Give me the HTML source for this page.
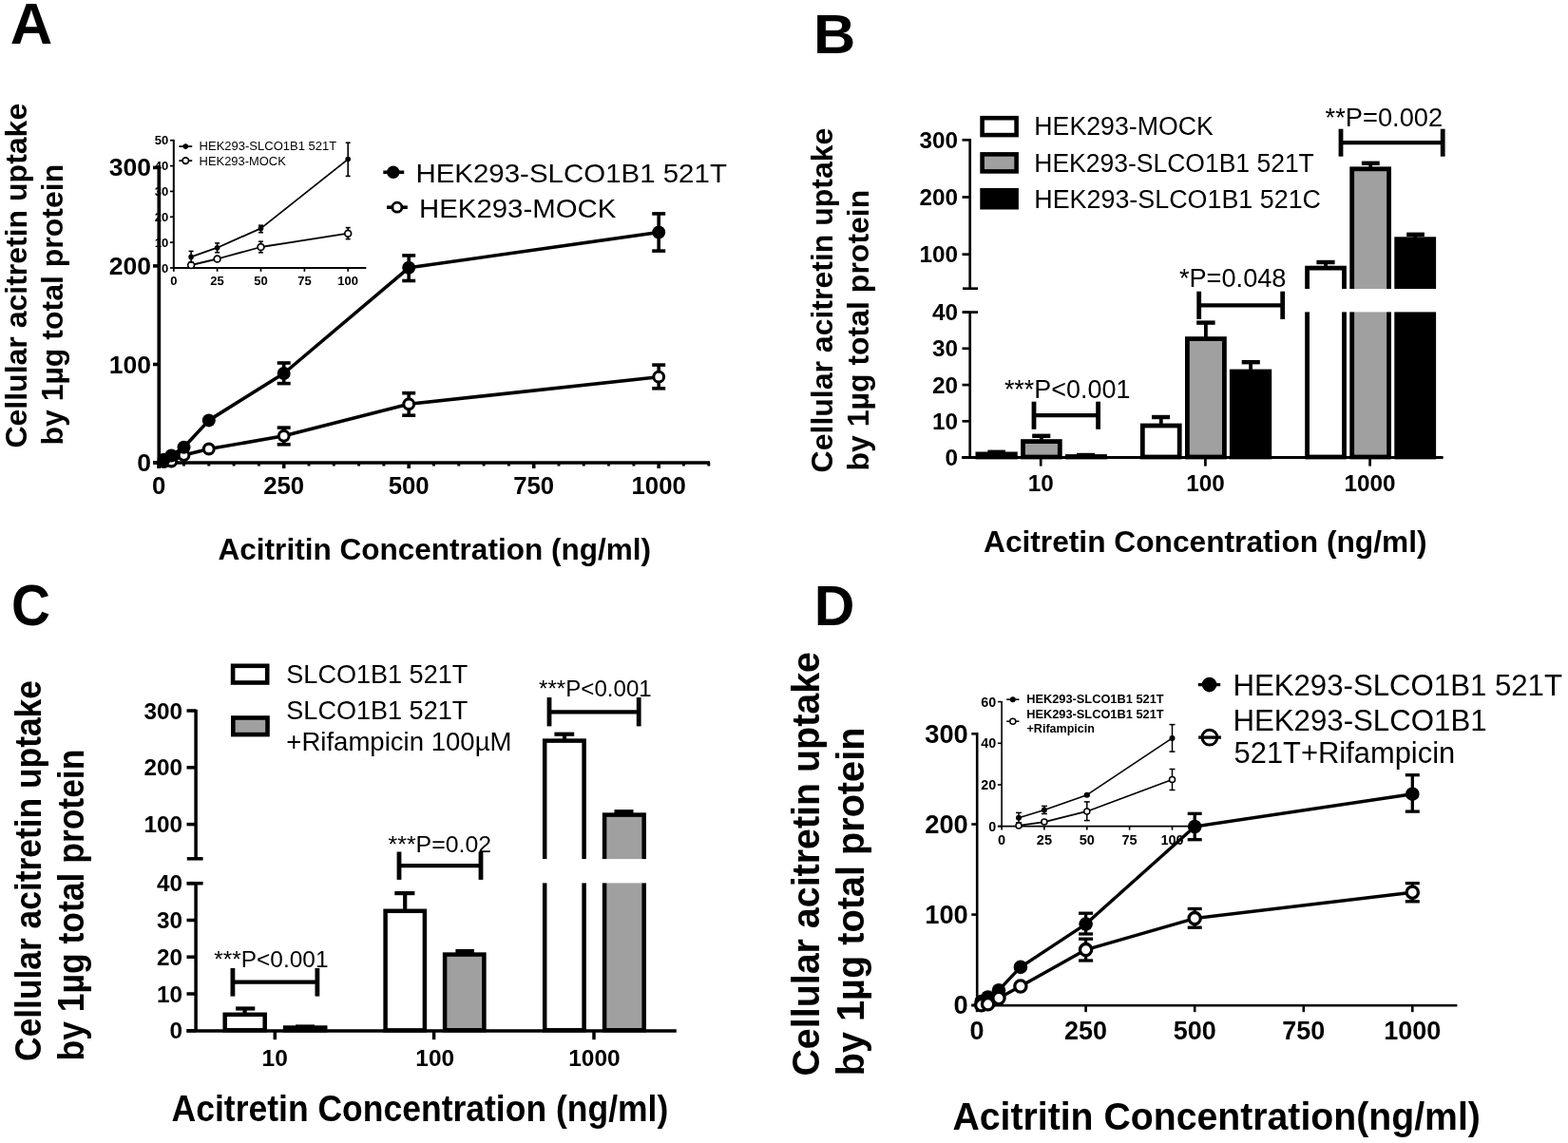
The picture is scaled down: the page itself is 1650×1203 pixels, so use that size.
<!DOCTYPE html>
<html><head><meta charset="utf-8"><title>Figure</title>
<style>html,body{margin:0;padding:0;background:#fff;}svg{display:block;}
text{font-family:"Liberation Sans",Arial,Helvetica,sans-serif;fill:#000;stroke:none;}
</style></head><body>
<svg width="1650" height="1203" viewBox="0 0 1650 1203" stroke="#000" stroke-linecap="butt">
<rect x="0" y="0" width="1650" height="1203" fill="#fff" stroke="none"/>
<text x="10.7" y="45.6" font-size="60.3" font-weight="bold" text-anchor="start" textLength="44.5" lengthAdjust="spacingAndGlyphs">A</text>
<text transform="translate(28.3 471.6) rotate(-90)" font-size="32.0" font-weight="bold">Cellular acitretin uptake</text>
<text transform="translate(65.7 468.6) rotate(-90)" font-size="32.0" font-weight="bold">by 1µg total protein</text>
<line x1="167.3" y1="174.0" x2="167.3" y2="492.7" stroke-width="3.70"/>
<line x1="161.3" y1="487.0" x2="747.0" y2="487.0" stroke-width="3.70"/>
<line x1="161.0" y1="487.0" x2="167.3" y2="487.0" stroke-width="3.60"/>
<text x="159.0" y="496.0" font-size="26.5" font-weight="bold" text-anchor="end">0</text>
<line x1="161.0" y1="383.5" x2="167.3" y2="383.5" stroke-width="3.60"/>
<text x="159.0" y="392.5" font-size="26.5" font-weight="bold" text-anchor="end">100</text>
<line x1="161.0" y1="279.9" x2="167.3" y2="279.9" stroke-width="3.60"/>
<text x="159.0" y="288.9" font-size="26.5" font-weight="bold" text-anchor="end">200</text>
<line x1="161.0" y1="176.4" x2="167.3" y2="176.4" stroke-width="3.60"/>
<text x="159.0" y="185.4" font-size="26.5" font-weight="bold" text-anchor="end">300</text>
<line x1="167.2" y1="487.0" x2="167.2" y2="493.0" stroke-width="3.60"/>
<line x1="193.5" y1="487.0" x2="193.5" y2="490.5" stroke-width="3.00"/>
<line x1="219.8" y1="487.0" x2="219.8" y2="490.5" stroke-width="3.00"/>
<line x1="246.1" y1="487.0" x2="246.1" y2="490.5" stroke-width="3.00"/>
<line x1="272.4" y1="487.0" x2="272.4" y2="490.5" stroke-width="3.00"/>
<line x1="298.7" y1="487.0" x2="298.7" y2="493.0" stroke-width="3.60"/>
<line x1="325.0" y1="487.0" x2="325.0" y2="490.5" stroke-width="3.00"/>
<line x1="351.3" y1="487.0" x2="351.3" y2="490.5" stroke-width="3.00"/>
<line x1="377.6" y1="487.0" x2="377.6" y2="490.5" stroke-width="3.00"/>
<line x1="403.9" y1="487.0" x2="403.9" y2="490.5" stroke-width="3.00"/>
<line x1="430.2" y1="487.0" x2="430.2" y2="493.0" stroke-width="3.60"/>
<line x1="456.5" y1="487.0" x2="456.5" y2="490.5" stroke-width="3.00"/>
<line x1="482.8" y1="487.0" x2="482.8" y2="490.5" stroke-width="3.00"/>
<line x1="509.1" y1="487.0" x2="509.1" y2="490.5" stroke-width="3.00"/>
<line x1="535.4" y1="487.0" x2="535.4" y2="490.5" stroke-width="3.00"/>
<line x1="561.7" y1="487.0" x2="561.7" y2="493.0" stroke-width="3.60"/>
<line x1="588.0" y1="487.0" x2="588.0" y2="490.5" stroke-width="3.00"/>
<line x1="614.3" y1="487.0" x2="614.3" y2="490.5" stroke-width="3.00"/>
<line x1="640.6" y1="487.0" x2="640.6" y2="490.5" stroke-width="3.00"/>
<line x1="666.9" y1="487.0" x2="666.9" y2="490.5" stroke-width="3.00"/>
<line x1="693.2" y1="487.0" x2="693.2" y2="493.0" stroke-width="3.60"/>
<line x1="719.5" y1="487.0" x2="719.5" y2="490.5" stroke-width="3.00"/>
<line x1="745.8" y1="487.0" x2="745.8" y2="490.5" stroke-width="3.00"/>
<text x="167.2" y="519.8" font-size="25.8" font-weight="bold" text-anchor="middle">0</text>
<text x="298.7" y="519.8" font-size="25.8" font-weight="bold" text-anchor="middle">250</text>
<text x="430.2" y="519.8" font-size="25.8" font-weight="bold" text-anchor="middle">500</text>
<text x="561.7" y="519.8" font-size="25.8" font-weight="bold" text-anchor="middle">750</text>
<text x="693.2" y="519.8" font-size="25.8" font-weight="bold" text-anchor="middle">1000</text>
<text x="457.3" y="588.9" font-size="32.0" font-weight="bold" text-anchor="middle" textLength="455.5" lengthAdjust="spacingAndGlyphs">Acitritin Concentration (ng/ml)</text>
<polyline fill="none" stroke-width="3.60" stroke-linejoin="round" points="172.5,486.0 180.3,485.5 193.5,479.1 219.8,472.5 298.7,458.8 430.2,425.3 693.2,396.7"/>
<line x1="298.7" y1="450.1" x2="298.7" y2="467.8" stroke-width="3.60"/>
<line x1="291.7" y1="450.1" x2="305.7" y2="450.1" stroke-width="3.60"/>
<line x1="291.7" y1="467.8" x2="305.7" y2="467.8" stroke-width="3.60"/>
<line x1="430.2" y1="413.7" x2="430.2" y2="437.2" stroke-width="3.60"/>
<line x1="423.2" y1="413.7" x2="437.2" y2="413.7" stroke-width="3.60"/>
<line x1="423.2" y1="437.2" x2="437.2" y2="437.2" stroke-width="3.60"/>
<line x1="693.2" y1="384.1" x2="693.2" y2="408.8" stroke-width="3.60"/>
<line x1="686.2" y1="384.1" x2="700.2" y2="384.1" stroke-width="3.60"/>
<line x1="686.2" y1="408.8" x2="700.2" y2="408.8" stroke-width="3.60"/>
<circle cx="172.5" cy="486.0" r="5.40" fill="#fff" stroke-width="3.10"/>
<circle cx="180.3" cy="485.5" r="5.40" fill="#fff" stroke-width="3.10"/>
<circle cx="193.5" cy="479.1" r="5.40" fill="#fff" stroke-width="3.10"/>
<circle cx="219.8" cy="472.5" r="5.40" fill="#fff" stroke-width="3.10"/>
<circle cx="298.7" cy="458.8" r="5.40" fill="#fff" stroke-width="3.10"/>
<circle cx="430.2" cy="425.3" r="5.40" fill="#fff" stroke-width="3.10"/>
<circle cx="693.2" cy="396.7" r="5.40" fill="#fff" stroke-width="3.10"/>
<polyline fill="none" stroke-width="3.60" stroke-linejoin="round" points="172.5,483.8 180.3,479.5 193.5,470.8 219.8,442.4 298.7,393.0 430.2,281.8 693.2,244.5"/>
<line x1="298.7" y1="382.0" x2="298.7" y2="403.6" stroke-width="3.60"/>
<line x1="291.7" y1="382.0" x2="305.7" y2="382.0" stroke-width="3.60"/>
<line x1="291.7" y1="403.6" x2="305.7" y2="403.6" stroke-width="3.60"/>
<line x1="430.2" y1="268.9" x2="430.2" y2="295.5" stroke-width="3.60"/>
<line x1="423.2" y1="268.9" x2="437.2" y2="268.9" stroke-width="3.60"/>
<line x1="423.2" y1="295.5" x2="437.2" y2="295.5" stroke-width="3.60"/>
<line x1="693.2" y1="224.9" x2="693.2" y2="264.1" stroke-width="3.60"/>
<line x1="686.2" y1="224.9" x2="700.2" y2="224.9" stroke-width="3.60"/>
<line x1="686.2" y1="264.1" x2="700.2" y2="264.1" stroke-width="3.60"/>
<circle cx="172.5" cy="483.8" r="7.00" fill="#000" stroke-width="0.00"/>
<circle cx="180.3" cy="479.5" r="7.00" fill="#000" stroke-width="0.00"/>
<circle cx="193.5" cy="470.8" r="7.00" fill="#000" stroke-width="0.00"/>
<circle cx="219.8" cy="442.4" r="7.00" fill="#000" stroke-width="0.00"/>
<circle cx="298.7" cy="393.0" r="7.00" fill="#000" stroke-width="0.00"/>
<circle cx="430.2" cy="281.8" r="7.00" fill="#000" stroke-width="0.00"/>
<circle cx="693.2" cy="244.5" r="7.00" fill="#000" stroke-width="0.00"/>
<line x1="403.3" y1="181.3" x2="425.2" y2="181.3" stroke-width="3.60"/>
<circle cx="413.8" cy="181.3" r="6.70" fill="#000" stroke-width="0.00"/>
<text x="437.4" y="191.5" font-size="28.5" text-anchor="start" textLength="327.5" lengthAdjust="spacingAndGlyphs">HEK293-SLCO1B1 521T</text>
<line x1="407.0" y1="218.2" x2="428.8" y2="218.2" stroke-width="3.60"/>
<circle cx="417.9" cy="218.2" r="5.00" fill="#fff" stroke-width="2.80"/>
<text x="441.0" y="228.6" font-size="28.5" text-anchor="start" textLength="207.3" lengthAdjust="spacingAndGlyphs">HEK293-MOCK</text>
<line x1="182.8" y1="146.9" x2="182.8" y2="283.0" stroke-width="2.00"/>
<line x1="181.8" y1="282.0" x2="385.3" y2="282.0" stroke-width="2.00"/>
<line x1="178.9" y1="282.0" x2="182.8" y2="282.0" stroke-width="1.70"/>
<text x="177.2" y="286.6" font-size="13.0" font-weight="bold" text-anchor="end">0</text>
<line x1="178.9" y1="255.1" x2="182.8" y2="255.1" stroke-width="1.70"/>
<text x="177.2" y="259.7" font-size="13.0" font-weight="bold" text-anchor="end">10</text>
<line x1="178.9" y1="228.3" x2="182.8" y2="228.3" stroke-width="1.70"/>
<text x="177.2" y="232.9" font-size="13.0" font-weight="bold" text-anchor="end">20</text>
<line x1="178.9" y1="201.4" x2="182.8" y2="201.4" stroke-width="1.70"/>
<text x="177.2" y="206.0" font-size="13.0" font-weight="bold" text-anchor="end">30</text>
<line x1="178.9" y1="174.6" x2="182.8" y2="174.6" stroke-width="1.70"/>
<text x="177.2" y="179.2" font-size="13.0" font-weight="bold" text-anchor="end">40</text>
<line x1="178.9" y1="147.7" x2="182.8" y2="147.7" stroke-width="1.70"/>
<text x="177.2" y="152.3" font-size="13.0" font-weight="bold" text-anchor="end">50</text>
<line x1="182.8" y1="282.0" x2="182.8" y2="285.8" stroke-width="1.70"/>
<text x="182.8" y="300.2" font-size="13.0" font-weight="bold" text-anchor="middle">0</text>
<line x1="228.6" y1="282.0" x2="228.6" y2="285.8" stroke-width="1.70"/>
<text x="228.6" y="300.2" font-size="13.0" font-weight="bold" text-anchor="middle">25</text>
<line x1="274.5" y1="282.0" x2="274.5" y2="285.8" stroke-width="1.70"/>
<text x="274.5" y="300.2" font-size="13.0" font-weight="bold" text-anchor="middle">50</text>
<line x1="320.4" y1="282.0" x2="320.4" y2="285.8" stroke-width="1.70"/>
<text x="320.4" y="300.2" font-size="13.0" font-weight="bold" text-anchor="middle">75</text>
<line x1="366.2" y1="282.0" x2="366.2" y2="285.8" stroke-width="1.70"/>
<text x="366.2" y="300.2" font-size="13.0" font-weight="bold" text-anchor="middle">100</text>
<polyline fill="none" stroke-width="1.80" stroke-linejoin="round" points="201.1,279.0 228.6,272.5 274.5,260.0 366.2,245.7"/>
<line x1="201.1" y1="276.5" x2="201.1" y2="281.5" stroke-width="1.60"/>
<line x1="198.6" y1="276.5" x2="203.6" y2="276.5" stroke-width="1.60"/>
<line x1="198.6" y1="281.5" x2="203.6" y2="281.5" stroke-width="1.60"/>
<line x1="228.6" y1="270.0" x2="228.6" y2="275.0" stroke-width="1.60"/>
<line x1="226.1" y1="270.0" x2="231.1" y2="270.0" stroke-width="1.60"/>
<line x1="226.1" y1="275.0" x2="231.1" y2="275.0" stroke-width="1.60"/>
<line x1="274.5" y1="254.2" x2="274.5" y2="265.8" stroke-width="1.60"/>
<line x1="272.0" y1="254.2" x2="277.0" y2="254.2" stroke-width="1.60"/>
<line x1="272.0" y1="265.8" x2="277.0" y2="265.8" stroke-width="1.60"/>
<line x1="366.2" y1="239.6" x2="366.2" y2="251.6" stroke-width="1.60"/>
<line x1="363.7" y1="239.6" x2="368.7" y2="239.6" stroke-width="1.60"/>
<line x1="363.7" y1="251.6" x2="368.7" y2="251.6" stroke-width="1.60"/>
<circle cx="201.1" cy="279.0" r="3.40" fill="#fff" stroke-width="1.70"/>
<circle cx="228.6" cy="272.5" r="3.40" fill="#fff" stroke-width="1.70"/>
<circle cx="274.5" cy="260.0" r="3.40" fill="#fff" stroke-width="1.70"/>
<circle cx="366.2" cy="245.7" r="3.40" fill="#fff" stroke-width="1.70"/>
<polyline fill="none" stroke-width="1.80" stroke-linejoin="round" points="201.1,270.4 228.6,260.7 274.5,240.4 366.2,167.6"/>
<line x1="201.1" y1="264.4" x2="201.1" y2="276.0" stroke-width="1.60"/>
<line x1="198.6" y1="264.4" x2="203.6" y2="264.4" stroke-width="1.60"/>
<line x1="198.6" y1="276.0" x2="203.6" y2="276.0" stroke-width="1.60"/>
<line x1="228.6" y1="255.9" x2="228.6" y2="265.8" stroke-width="1.60"/>
<line x1="226.1" y1="255.9" x2="231.1" y2="255.9" stroke-width="1.60"/>
<line x1="226.1" y1="265.8" x2="231.1" y2="265.8" stroke-width="1.60"/>
<line x1="274.5" y1="237.2" x2="274.5" y2="244.7" stroke-width="1.60"/>
<line x1="272.0" y1="237.2" x2="277.0" y2="237.2" stroke-width="1.60"/>
<line x1="272.0" y1="244.7" x2="277.0" y2="244.7" stroke-width="1.60"/>
<line x1="366.2" y1="150.2" x2="366.2" y2="185.4" stroke-width="1.60"/>
<line x1="363.7" y1="150.2" x2="368.7" y2="150.2" stroke-width="1.60"/>
<line x1="363.7" y1="185.4" x2="368.7" y2="185.4" stroke-width="1.60"/>
<circle cx="201.1" cy="270.4" r="2.80" fill="#000" stroke-width="0.00"/>
<circle cx="228.6" cy="260.7" r="2.80" fill="#000" stroke-width="0.00"/>
<circle cx="274.5" cy="240.4" r="2.80" fill="#000" stroke-width="0.00"/>
<circle cx="366.2" cy="167.6" r="2.80" fill="#000" stroke-width="0.00"/>
<line x1="188.4" y1="154.1" x2="202.2" y2="154.1" stroke-width="1.80"/>
<circle cx="195.3" cy="154.1" r="2.80" fill="#000" stroke-width="0.00"/>
<text x="209.6" y="158.2" font-size="12.3" text-anchor="start" textLength="144.6" lengthAdjust="spacingAndGlyphs">HEK293-SLCO1B1 521T</text>
<line x1="188.4" y1="169.1" x2="202.2" y2="169.1" stroke-width="1.80"/>
<circle cx="195.3" cy="169.1" r="3.30" fill="#fff" stroke-width="1.70"/>
<text x="209.6" y="173.5" font-size="12.3" text-anchor="start" textLength="91.2" lengthAdjust="spacingAndGlyphs">HEK293-MOCK</text>
<text x="855.9" y="56.1" font-size="57.5" font-weight="bold" text-anchor="start" textLength="44.3" lengthAdjust="spacingAndGlyphs">B</text>
<text transform="translate(876.4 497.4) rotate(-90)" font-size="32.0" font-weight="bold">Cellular acitretin uptake</text>
<text transform="translate(914.0 495.5) rotate(-90)" font-size="32.0" font-weight="bold">by 1µg total protein</text>
<line x1="1020.7" y1="146.0" x2="1020.7" y2="303.7" stroke-width="2.70"/>
<line x1="1013.0" y1="303.7" x2="1029.0" y2="303.7" stroke-width="2.70"/>
<line x1="1013.0" y1="328.6" x2="1029.0" y2="328.6" stroke-width="2.70"/>
<line x1="1020.7" y1="328.6" x2="1020.7" y2="481.5" stroke-width="2.70"/>
<line x1="1012.5" y1="267.7" x2="1020.7" y2="267.7" stroke-width="2.70"/>
<text x="1008.0" y="276.3" font-size="24.3" font-weight="bold" text-anchor="end">100</text>
<line x1="1012.5" y1="207.5" x2="1020.7" y2="207.5" stroke-width="2.70"/>
<text x="1008.0" y="216.1" font-size="24.3" font-weight="bold" text-anchor="end">200</text>
<line x1="1012.5" y1="147.3" x2="1020.7" y2="147.3" stroke-width="2.70"/>
<text x="1008.0" y="155.9" font-size="24.3" font-weight="bold" text-anchor="end">300</text>
<line x1="1012.5" y1="481.5" x2="1020.7" y2="481.5" stroke-width="2.70"/>
<text x="1008.0" y="490.1" font-size="24.3" font-weight="bold" text-anchor="end">0</text>
<line x1="1012.5" y1="443.3" x2="1020.7" y2="443.3" stroke-width="2.70"/>
<text x="1008.0" y="451.9" font-size="24.3" font-weight="bold" text-anchor="end">10</text>
<line x1="1012.5" y1="405.1" x2="1020.7" y2="405.1" stroke-width="2.70"/>
<text x="1008.0" y="413.7" font-size="24.3" font-weight="bold" text-anchor="end">20</text>
<line x1="1012.5" y1="366.8" x2="1020.7" y2="366.8" stroke-width="2.70"/>
<text x="1008.0" y="375.4" font-size="24.3" font-weight="bold" text-anchor="end">30</text>
<line x1="1012.5" y1="328.6" x2="1020.7" y2="328.6" stroke-width="2.70"/>
<text x="1008.0" y="337.2" font-size="24.3" font-weight="bold" text-anchor="end">40</text>
<line x1="1012.0" y1="481.5" x2="1518.6" y2="481.5" stroke-width="2.90"/>
<line x1="1095.2" y1="481.5" x2="1095.2" y2="490.6" stroke-width="2.70"/>
<text x="1095.2" y="517.3" font-size="24.3" font-weight="bold" text-anchor="middle">10</text>
<line x1="1268.4" y1="481.5" x2="1268.4" y2="490.6" stroke-width="2.70"/>
<text x="1268.4" y="517.3" font-size="24.3" font-weight="bold" text-anchor="middle">100</text>
<line x1="1441.6" y1="481.5" x2="1441.6" y2="490.6" stroke-width="2.70"/>
<text x="1441.6" y="517.3" font-size="24.3" font-weight="bold" text-anchor="middle">1000</text>
<text x="1035.0" y="580.9" font-size="31.7" font-weight="bold" text-anchor="start">Acitretin Concentration (ng/ml)</text>
<rect x="1033.6" y="124.2" width="36.0" height="17.9" fill="#fff" stroke-width="4.60"/>
<rect x="1033.6" y="162.4" width="36.0" height="18.0" fill="#a0a0a0" stroke-width="4.60"/>
<rect x="1031.3" y="198.0" width="40.6" height="22.5" fill="#000" stroke-width="0.00"/>
<text x="1088.3" y="142.4" font-size="27.0" text-anchor="start" textLength="188.6" lengthAdjust="spacingAndGlyphs">HEK293-MOCK</text>
<text x="1088.3" y="180.8" font-size="27.0" text-anchor="start" textLength="294.5" lengthAdjust="spacingAndGlyphs">HEK293-SLCO1B1 521T</text>
<text x="1088.3" y="218.5" font-size="27.0" text-anchor="start" textLength="301.7" lengthAdjust="spacingAndGlyphs">HEK293-SLCO1B1 521C</text>
<line x1="1048.7" y1="477.5" x2="1048.7" y2="475.8" stroke-width="3.80"/>
<line x1="1039.4" y1="475.8" x2="1057.9" y2="475.8" stroke-width="4.40"/>
<rect x="1026.5" y="475.5" width="44.3" height="7.9" fill="#000" stroke="none"/>
<line x1="1095.9" y1="464.2" x2="1095.9" y2="458.8" stroke-width="3.80"/>
<line x1="1086.2" y1="458.8" x2="1105.3" y2="458.8" stroke-width="4.40"/>
<rect x="1076.5" y="464.6" width="38.8" height="16.4" fill="#a0a0a0" stroke-width="4.80"/>
<line x1="1143.0" y1="480.1" x2="1143.0" y2="479.0" stroke-width="3.80"/>
<line x1="1133.0" y1="479.0" x2="1152.0" y2="479.0" stroke-width="4.40"/>
<rect x="1121.0" y="478.1" width="44.0" height="5.3" fill="#000" stroke="none"/>
<line x1="1221.8" y1="447.6" x2="1221.8" y2="439.0" stroke-width="3.80"/>
<line x1="1212.0" y1="439.0" x2="1231.1" y2="439.0" stroke-width="4.40"/>
<rect x="1202.3" y="448.0" width="38.9" height="33.0" fill="#fff" stroke-width="4.80"/>
<line x1="1268.9" y1="356.2" x2="1268.9" y2="339.6" stroke-width="3.80"/>
<line x1="1259.2" y1="339.6" x2="1278.6" y2="339.6" stroke-width="4.40"/>
<rect x="1249.4" y="356.6" width="39.0" height="124.4" fill="#a0a0a0" stroke-width="4.80"/>
<line x1="1316.1" y1="390.6" x2="1316.1" y2="381.2" stroke-width="3.80"/>
<line x1="1306.7" y1="381.2" x2="1325.8" y2="381.2" stroke-width="4.40"/>
<rect x="1293.9" y="388.6" width="44.3" height="94.8" fill="#000" stroke="none"/>
<line x1="1395.1" y1="281.7" x2="1395.1" y2="276.0" stroke-width="3.80"/>
<line x1="1385.4" y1="276.0" x2="1404.6" y2="276.0" stroke-width="4.40"/>
<rect x="1375.6" y="282.1" width="38.9" height="198.9" fill="#fff" stroke-width="4.80"/>
<line x1="1442.2" y1="177.4" x2="1442.2" y2="171.8" stroke-width="3.80"/>
<line x1="1432.9" y1="171.8" x2="1451.7" y2="171.8" stroke-width="4.40"/>
<rect x="1422.7" y="177.8" width="38.9" height="303.2" fill="#a0a0a0" stroke-width="4.80"/>
<line x1="1489.2" y1="251.3" x2="1489.2" y2="246.8" stroke-width="3.80"/>
<line x1="1480.2" y1="246.8" x2="1498.9" y2="246.8" stroke-width="4.40"/>
<rect x="1467.3" y="249.3" width="43.8" height="234.1" fill="#000" stroke="none"/>
<rect x="1030" y="304.0" width="490" height="24.4" fill="#fff" stroke="none"/>
<line x1="1088.0" y1="437.1" x2="1155.6" y2="437.1" stroke-width="4.30"/>
<line x1="1088.0" y1="422.7" x2="1088.0" y2="451.8" stroke-width="4.80"/>
<line x1="1155.6" y1="422.7" x2="1155.6" y2="451.8" stroke-width="4.80"/>
<text x="1056.9" y="418.8" font-size="27.0" text-anchor="start" textLength="132.5" lengthAdjust="spacingAndGlyphs">***P&lt;0.001</text>
<line x1="1261.7" y1="321.3" x2="1349.7" y2="321.3" stroke-width="4.30"/>
<line x1="1261.7" y1="306.7" x2="1261.7" y2="336.0" stroke-width="4.80"/>
<line x1="1349.7" y1="306.7" x2="1349.7" y2="336.0" stroke-width="4.80"/>
<text x="1240.9" y="301.6" font-size="27.0" text-anchor="start" textLength="112.6" lengthAdjust="spacingAndGlyphs">*P=0.048</text>
<line x1="1411.0" y1="150.2" x2="1518.2" y2="150.2" stroke-width="4.30"/>
<line x1="1411.0" y1="135.7" x2="1411.0" y2="164.7" stroke-width="4.80"/>
<line x1="1518.2" y1="135.7" x2="1518.2" y2="164.7" stroke-width="4.80"/>
<text x="1394.6" y="132.9" font-size="27.0" text-anchor="start" textLength="123.6" lengthAdjust="spacingAndGlyphs">**P=0.002</text>
<text x="11.9" y="658.3" font-size="61.0" font-weight="bold" text-anchor="start" textLength="40.9" lengthAdjust="spacingAndGlyphs">C</text>
<text transform="translate(42.5 1116.9) rotate(-90)" font-size="38.2" font-weight="bold" textLength="400.8" lengthAdjust="spacingAndGlyphs">Cellular acitretin uptake</text>
<text transform="translate(87.8 1116.4) rotate(-90)" font-size="38.2" font-weight="bold" textLength="327.8" lengthAdjust="spacingAndGlyphs">by 1µg total protein</text>
<line x1="206.1" y1="746.7" x2="206.1" y2="903.8" stroke-width="3.50"/>
<line x1="196.8" y1="903.8" x2="213.6" y2="903.8" stroke-width="3.50"/>
<line x1="196.8" y1="929.7" x2="213.6" y2="929.7" stroke-width="3.50"/>
<line x1="206.1" y1="929.7" x2="206.1" y2="1085.0" stroke-width="3.50"/>
<line x1="196.5" y1="867.6" x2="206.1" y2="867.6" stroke-width="3.50"/>
<text x="192.0" y="876.2" font-size="24.3" font-weight="bold" text-anchor="end">100</text>
<line x1="196.5" y1="807.8" x2="206.1" y2="807.8" stroke-width="3.50"/>
<text x="192.0" y="816.4" font-size="24.3" font-weight="bold" text-anchor="end">200</text>
<line x1="196.5" y1="748.0" x2="206.1" y2="748.0" stroke-width="3.50"/>
<text x="192.0" y="756.6" font-size="24.3" font-weight="bold" text-anchor="end">300</text>
<line x1="196.5" y1="1084.8" x2="206.1" y2="1084.8" stroke-width="3.50"/>
<text x="192.0" y="1093.4" font-size="24.3" font-weight="bold" text-anchor="end">0</text>
<line x1="196.5" y1="1046.0" x2="206.1" y2="1046.0" stroke-width="3.50"/>
<text x="192.0" y="1054.6" font-size="24.3" font-weight="bold" text-anchor="end">10</text>
<line x1="196.5" y1="1007.2" x2="206.1" y2="1007.2" stroke-width="3.50"/>
<text x="192.0" y="1015.9" font-size="24.3" font-weight="bold" text-anchor="end">20</text>
<line x1="196.5" y1="968.5" x2="206.1" y2="968.5" stroke-width="3.50"/>
<text x="192.0" y="977.1" font-size="24.3" font-weight="bold" text-anchor="end">30</text>
<line x1="196.5" y1="929.7" x2="206.1" y2="929.7" stroke-width="3.50"/>
<text x="192.0" y="938.3" font-size="24.3" font-weight="bold" text-anchor="end">40</text>
<line x1="196.4" y1="1085.0" x2="711.8" y2="1085.0" stroke-width="3.40"/>
<line x1="289.3" y1="1085.0" x2="289.3" y2="1094.2" stroke-width="3.50"/>
<text x="289.2" y="1121.8" font-size="24.5" font-weight="bold" text-anchor="middle">10</text>
<line x1="456.6" y1="1085.0" x2="456.6" y2="1094.2" stroke-width="3.50"/>
<text x="457.7" y="1121.8" font-size="24.5" font-weight="bold" text-anchor="middle">100</text>
<line x1="625.0" y1="1085.0" x2="625.0" y2="1094.2" stroke-width="3.50"/>
<text x="625.5" y="1121.8" font-size="24.5" font-weight="bold" text-anchor="middle">1000</text>
<text x="180.6" y="1180.1" font-size="38.2" font-weight="bold" text-anchor="start" textLength="522.7" lengthAdjust="spacingAndGlyphs">Acitretin Concentration (ng/ml)</text>
<line x1="257.6" y1="1067.6" x2="257.6" y2="1061.5" stroke-width="4.20"/>
<line x1="248.1" y1="1061.5" x2="268.3" y2="1061.5" stroke-width="4.20"/>
<rect x="236.7" y="1067.8" width="42.0" height="16.5" fill="#fff" stroke-width="4.50"/>
<line x1="321.2" y1="1081.3" x2="321.2" y2="1080.5" stroke-width="4.20"/>
<line x1="311.0" y1="1080.5" x2="331.0" y2="1080.5" stroke-width="4.20"/>
<rect x="297.9" y="1079.3" width="46.6" height="7.3" fill="#000" stroke="none"/>
<line x1="426.2" y1="958.5" x2="426.2" y2="940.1" stroke-width="4.20"/>
<line x1="415.3" y1="940.1" x2="436.4" y2="940.1" stroke-width="4.20"/>
<rect x="405.6" y="958.8" width="41.3" height="125.6" fill="#fff" stroke-width="4.50"/>
<line x1="488.7" y1="1004.4" x2="488.7" y2="1001.1" stroke-width="4.20"/>
<line x1="479.4" y1="1001.1" x2="499.0" y2="1001.1" stroke-width="4.20"/>
<rect x="468.1" y="1004.6" width="41.3" height="79.7" fill="#a0a0a0" stroke-width="4.50"/>
<line x1="594.0" y1="779.4" x2="594.0" y2="772.7" stroke-width="4.20"/>
<line x1="583.4" y1="772.7" x2="604.2" y2="772.7" stroke-width="4.20"/>
<rect x="573.2" y="779.6" width="41.4" height="304.7" fill="#fff" stroke-width="4.50"/>
<line x1="657.0" y1="857.4" x2="657.0" y2="854.2" stroke-width="4.20"/>
<line x1="646.5" y1="854.2" x2="666.5" y2="854.2" stroke-width="4.20"/>
<rect x="636.1" y="857.6" width="41.6" height="226.7" fill="#a0a0a0" stroke-width="4.50"/>
<rect x="220" y="904.1" width="480" height="25.3" fill="#fff" stroke="none"/>
<line x1="244.9" y1="1033.6" x2="333.9" y2="1033.6" stroke-width="4.30"/>
<line x1="244.9" y1="1019.0" x2="244.9" y2="1048.6" stroke-width="4.80"/>
<line x1="333.9" y1="1019.0" x2="333.9" y2="1048.6" stroke-width="4.80"/>
<text x="225.3" y="1018.0" font-size="24.7" text-anchor="start" textLength="120.2" lengthAdjust="spacingAndGlyphs">***P&lt;0.001</text>
<line x1="420.0" y1="911.1" x2="506.0" y2="911.1" stroke-width="4.30"/>
<line x1="420.0" y1="896.5" x2="420.0" y2="925.9" stroke-width="4.80"/>
<line x1="506.0" y1="896.5" x2="506.0" y2="925.9" stroke-width="4.80"/>
<text x="408.6" y="896.5" font-size="24.7" text-anchor="start" textLength="108.5" lengthAdjust="spacingAndGlyphs">***P=0.02</text>
<line x1="578.0" y1="749.4" x2="672.2" y2="749.4" stroke-width="4.30"/>
<line x1="578.0" y1="734.0" x2="578.0" y2="764.4" stroke-width="4.80"/>
<line x1="672.2" y1="734.0" x2="672.2" y2="764.4" stroke-width="4.80"/>
<text x="567.1" y="733.3" font-size="24.7" text-anchor="start" textLength="118.7" lengthAdjust="spacingAndGlyphs">***P&lt;0.001</text>
<rect x="245.1" y="700.8" width="36.1" height="17.7" fill="#fff" stroke-width="4.60"/>
<rect x="245.3" y="755.5" width="36.2" height="17.6" fill="#a0a0a0" stroke-width="4.60"/>
<text x="301.3" y="719.0" font-size="27.3" text-anchor="start" textLength="191.0" lengthAdjust="spacingAndGlyphs">SLCO1B1 521T</text>
<text x="301.3" y="756.9" font-size="27.3" text-anchor="start" textLength="191.0" lengthAdjust="spacingAndGlyphs">SLCO1B1 521T</text>
<text x="301.3" y="789.7" font-size="27.3" text-anchor="start" textLength="237.2" lengthAdjust="spacingAndGlyphs">+Rifampicin 100µM</text>
<text x="856.8" y="657.7" font-size="59.0" font-weight="bold" text-anchor="start">D</text>
<text transform="translate(862.0 1132.6) rotate(-90)" font-size="40.0" font-weight="bold" textLength="446.6" lengthAdjust="spacingAndGlyphs">Cellular acitretin uptake</text>
<text transform="translate(909.4 1132.3) rotate(-90)" font-size="40.0" font-weight="bold" textLength="366.7" lengthAdjust="spacingAndGlyphs">by 1µg total protein</text>
<line x1="1028.2" y1="771.0" x2="1028.2" y2="1059.5" stroke-width="2.60"/>
<line x1="1022.3" y1="1058.2" x2="1533.4" y2="1058.2" stroke-width="2.60"/>
<line x1="1022.3" y1="1057.8" x2="1028.2" y2="1057.8" stroke-width="2.60"/>
<text x="1018.8" y="1067.4" font-size="27.3" font-weight="bold" text-anchor="end">0</text>
<line x1="1022.3" y1="962.6" x2="1028.2" y2="962.6" stroke-width="2.60"/>
<text x="1018.8" y="972.2" font-size="27.3" font-weight="bold" text-anchor="end">100</text>
<line x1="1022.3" y1="867.5" x2="1028.2" y2="867.5" stroke-width="2.60"/>
<text x="1018.8" y="877.1" font-size="27.3" font-weight="bold" text-anchor="end">200</text>
<line x1="1022.3" y1="772.3" x2="1028.2" y2="772.3" stroke-width="2.60"/>
<text x="1018.8" y="781.9" font-size="27.3" font-weight="bold" text-anchor="end">300</text>
<line x1="1028.1" y1="1058.2" x2="1028.1" y2="1065.2" stroke-width="2.60"/>
<text x="1028.1" y="1094.0" font-size="27.0" font-weight="bold" text-anchor="middle">0</text>
<line x1="1142.6" y1="1058.2" x2="1142.6" y2="1065.2" stroke-width="2.60"/>
<text x="1142.6" y="1094.0" font-size="27.0" font-weight="bold" text-anchor="middle">250</text>
<line x1="1257.2" y1="1058.2" x2="1257.2" y2="1065.2" stroke-width="2.60"/>
<text x="1257.2" y="1094.0" font-size="27.0" font-weight="bold" text-anchor="middle">500</text>
<line x1="1371.8" y1="1058.2" x2="1371.8" y2="1065.2" stroke-width="2.60"/>
<text x="1371.8" y="1094.0" font-size="27.0" font-weight="bold" text-anchor="middle">750</text>
<line x1="1486.3" y1="1058.2" x2="1486.3" y2="1065.2" stroke-width="2.60"/>
<text x="1486.3" y="1094.0" font-size="27.0" font-weight="bold" text-anchor="middle">1000</text>
<text x="1002.4" y="1189.2" font-size="40.0" font-weight="bold" text-anchor="start" textLength="555.5" lengthAdjust="spacingAndGlyphs">Acitritin Concentration(ng/ml)</text>
<polyline fill="none" stroke-width="3.40" stroke-linejoin="round" points="1032.7,1054.0 1039.6,1049.5 1051.0,1042.2 1073.9,1017.9 1142.6,972.6 1257.2,870.0 1486.3,835.7"/>
<line x1="1142.6" y1="961.2" x2="1142.6" y2="983.0" stroke-width="3.30"/>
<line x1="1135.1" y1="961.2" x2="1150.1" y2="961.2" stroke-width="3.30"/>
<line x1="1135.1" y1="983.0" x2="1150.1" y2="983.0" stroke-width="3.30"/>
<line x1="1257.2" y1="856.3" x2="1257.2" y2="883.7" stroke-width="3.30"/>
<line x1="1249.7" y1="856.3" x2="1264.7" y2="856.3" stroke-width="3.30"/>
<line x1="1249.7" y1="883.7" x2="1264.7" y2="883.7" stroke-width="3.30"/>
<line x1="1486.3" y1="815.7" x2="1486.3" y2="854.1" stroke-width="3.30"/>
<line x1="1478.8" y1="815.7" x2="1493.8" y2="815.7" stroke-width="3.30"/>
<line x1="1478.8" y1="854.1" x2="1493.8" y2="854.1" stroke-width="3.30"/>
<circle cx="1032.7" cy="1054.0" r="7.30" fill="#000" stroke-width="0.00"/>
<circle cx="1039.6" cy="1049.5" r="7.30" fill="#000" stroke-width="0.00"/>
<circle cx="1051.0" cy="1042.2" r="7.30" fill="#000" stroke-width="0.00"/>
<circle cx="1073.9" cy="1017.9" r="7.30" fill="#000" stroke-width="0.00"/>
<circle cx="1142.6" cy="972.6" r="7.30" fill="#000" stroke-width="0.00"/>
<circle cx="1257.2" cy="870.0" r="7.30" fill="#000" stroke-width="0.00"/>
<circle cx="1486.3" cy="835.7" r="7.30" fill="#000" stroke-width="0.00"/>
<polyline fill="none" stroke-width="3.40" stroke-linejoin="round" points="1032.7,1057.8 1039.6,1056.8 1051.0,1050.5 1073.9,1038.0 1142.6,999.6 1257.2,966.6 1486.3,939.2"/>
<line x1="1142.6" y1="988.2" x2="1142.6" y2="1011.0" stroke-width="3.30"/>
<line x1="1135.1" y1="988.2" x2="1150.1" y2="988.2" stroke-width="3.30"/>
<line x1="1135.1" y1="1011.0" x2="1150.1" y2="1011.0" stroke-width="3.30"/>
<line x1="1257.2" y1="956.5" x2="1257.2" y2="976.2" stroke-width="3.30"/>
<line x1="1249.7" y1="956.5" x2="1264.7" y2="956.5" stroke-width="3.30"/>
<line x1="1249.7" y1="976.2" x2="1264.7" y2="976.2" stroke-width="3.30"/>
<line x1="1486.3" y1="929.6" x2="1486.3" y2="948.8" stroke-width="3.30"/>
<line x1="1478.8" y1="929.6" x2="1493.8" y2="929.6" stroke-width="3.30"/>
<line x1="1478.8" y1="948.8" x2="1493.8" y2="948.8" stroke-width="3.30"/>
<circle cx="1032.7" cy="1057.8" r="6.10" fill="#fff" stroke-width="3.30"/>
<circle cx="1039.6" cy="1056.8" r="6.10" fill="#fff" stroke-width="3.30"/>
<circle cx="1051.0" cy="1050.5" r="6.10" fill="#fff" stroke-width="3.30"/>
<circle cx="1073.9" cy="1038.0" r="6.10" fill="#fff" stroke-width="3.30"/>
<circle cx="1142.6" cy="999.6" r="6.10" fill="#fff" stroke-width="3.30"/>
<circle cx="1257.2" cy="966.6" r="6.10" fill="#fff" stroke-width="3.30"/>
<circle cx="1486.3" cy="939.2" r="6.10" fill="#fff" stroke-width="3.30"/>
<circle cx="1272.6" cy="720.6" r="7.80" fill="#000" stroke-width="0.00"/>
<line x1="1260.8" y1="720.6" x2="1284.2" y2="720.6" stroke-width="3.30"/>
<text x="1297.4" y="731.7" font-size="31.0" text-anchor="start" textLength="346.6" lengthAdjust="spacingAndGlyphs">HEK293-SLCO1B1 521T</text>
<circle cx="1272.9" cy="776.1" r="7.90" fill="#fff" stroke-width="2.90"/>
<line x1="1261.2" y1="776.1" x2="1284.9" y2="776.1" stroke-width="3.30"/>
<text x="1297.4" y="768.8" font-size="31.0" text-anchor="start" textLength="267.2" lengthAdjust="spacingAndGlyphs">HEK293-SLCO1B1</text>
<text x="1298.6" y="802.7" font-size="31.0" text-anchor="start" textLength="232.6" lengthAdjust="spacingAndGlyphs">521T+Rifampicin</text>
<line x1="1054.1" y1="737.9" x2="1054.1" y2="870.4" stroke-width="1.60"/>
<line x1="1049.9" y1="869.6" x2="1251.4" y2="869.6" stroke-width="1.60"/>
<line x1="1049.9" y1="869.6" x2="1054.1" y2="869.6" stroke-width="1.60"/>
<text x="1048.2" y="874.6" font-size="14.3" font-weight="bold" text-anchor="end">0</text>
<line x1="1049.9" y1="826.0" x2="1054.1" y2="826.0" stroke-width="1.60"/>
<text x="1048.2" y="831.0" font-size="14.3" font-weight="bold" text-anchor="end">20</text>
<line x1="1049.9" y1="782.3" x2="1054.1" y2="782.3" stroke-width="1.60"/>
<text x="1048.2" y="787.3" font-size="14.3" font-weight="bold" text-anchor="end">40</text>
<line x1="1049.9" y1="738.6" x2="1054.1" y2="738.6" stroke-width="1.60"/>
<text x="1048.2" y="743.6" font-size="14.3" font-weight="bold" text-anchor="end">60</text>
<line x1="1054.1" y1="869.6" x2="1054.1" y2="873.6" stroke-width="1.60"/>
<text x="1054.1" y="889.2" font-size="14.5" font-weight="bold" text-anchor="middle">0</text>
<line x1="1098.9" y1="869.6" x2="1098.9" y2="873.6" stroke-width="1.60"/>
<text x="1098.9" y="889.2" font-size="14.5" font-weight="bold" text-anchor="middle">25</text>
<line x1="1143.8" y1="869.6" x2="1143.8" y2="873.6" stroke-width="1.60"/>
<text x="1143.8" y="889.2" font-size="14.5" font-weight="bold" text-anchor="middle">50</text>
<line x1="1188.6" y1="869.6" x2="1188.6" y2="873.6" stroke-width="1.60"/>
<text x="1188.6" y="889.2" font-size="14.5" font-weight="bold" text-anchor="middle">75</text>
<line x1="1233.5" y1="869.6" x2="1233.5" y2="873.6" stroke-width="1.60"/>
<text x="1233.5" y="889.2" font-size="14.5" font-weight="bold" text-anchor="middle">100</text>
<polyline fill="none" stroke-width="1.60" stroke-linejoin="round" points="1072.0,860.7 1098.9,852.4 1143.8,836.7 1233.5,776.9"/>
<line x1="1072.0" y1="855.4" x2="1072.0" y2="865.9" stroke-width="1.50"/>
<line x1="1069.0" y1="855.4" x2="1075.0" y2="855.4" stroke-width="1.50"/>
<line x1="1069.0" y1="865.9" x2="1075.0" y2="865.9" stroke-width="1.50"/>
<line x1="1098.9" y1="848.4" x2="1098.9" y2="856.5" stroke-width="1.50"/>
<line x1="1095.9" y1="848.4" x2="1101.9" y2="848.4" stroke-width="1.50"/>
<line x1="1095.9" y1="856.5" x2="1101.9" y2="856.5" stroke-width="1.50"/>
<line x1="1143.8" y1="836.0" x2="1143.8" y2="837.5" stroke-width="1.50"/>
<line x1="1140.8" y1="836.0" x2="1146.8" y2="836.0" stroke-width="1.50"/>
<line x1="1140.8" y1="837.5" x2="1146.8" y2="837.5" stroke-width="1.50"/>
<line x1="1233.5" y1="762.6" x2="1233.5" y2="791.1" stroke-width="1.50"/>
<line x1="1230.5" y1="762.6" x2="1236.5" y2="762.6" stroke-width="1.50"/>
<line x1="1230.5" y1="791.1" x2="1236.5" y2="791.1" stroke-width="1.50"/>
<circle cx="1072.0" cy="860.7" r="3.00" fill="#000" stroke-width="0.00"/>
<circle cx="1098.9" cy="852.4" r="3.00" fill="#000" stroke-width="0.00"/>
<circle cx="1143.8" cy="836.7" r="3.00" fill="#000" stroke-width="0.00"/>
<circle cx="1233.5" cy="776.9" r="3.00" fill="#000" stroke-width="0.00"/>
<polyline fill="none" stroke-width="1.60" stroke-linejoin="round" points="1072.0,868.9 1098.9,865.1 1143.8,853.9 1233.5,820.6"/>
<line x1="1072.0" y1="866.0" x2="1072.0" y2="870.0" stroke-width="1.50"/>
<line x1="1069.0" y1="866.0" x2="1075.0" y2="866.0" stroke-width="1.50"/>
<line x1="1069.0" y1="870.0" x2="1075.0" y2="870.0" stroke-width="1.50"/>
<line x1="1098.9" y1="863.0" x2="1098.9" y2="867.0" stroke-width="1.50"/>
<line x1="1095.9" y1="863.0" x2="1101.9" y2="863.0" stroke-width="1.50"/>
<line x1="1095.9" y1="867.0" x2="1101.9" y2="867.0" stroke-width="1.50"/>
<line x1="1143.8" y1="843.9" x2="1143.8" y2="863.6" stroke-width="1.50"/>
<line x1="1140.8" y1="843.9" x2="1146.8" y2="843.9" stroke-width="1.50"/>
<line x1="1140.8" y1="863.6" x2="1146.8" y2="863.6" stroke-width="1.50"/>
<line x1="1233.5" y1="809.5" x2="1233.5" y2="831.5" stroke-width="1.50"/>
<line x1="1230.5" y1="809.5" x2="1236.5" y2="809.5" stroke-width="1.50"/>
<line x1="1230.5" y1="831.5" x2="1236.5" y2="831.5" stroke-width="1.50"/>
<circle cx="1072.0" cy="868.9" r="3.00" fill="#fff" stroke-width="1.50"/>
<circle cx="1098.9" cy="865.1" r="3.00" fill="#fff" stroke-width="1.50"/>
<circle cx="1143.8" cy="853.9" r="3.00" fill="#fff" stroke-width="1.50"/>
<circle cx="1233.5" cy="820.6" r="3.00" fill="#fff" stroke-width="1.50"/>
<line x1="1059.2" y1="736.2" x2="1072.4" y2="736.2" stroke-width="1.60"/>
<circle cx="1065.8" cy="736.2" r="3.00" fill="#000" stroke-width="0.00"/>
<text x="1080.2" y="740.2" font-size="12.8" font-weight="bold" text-anchor="start" textLength="144.4" lengthAdjust="spacingAndGlyphs">HEK293-SLCO1B1 521T</text>
<text x="1080.2" y="755.9" font-size="12.8" font-weight="bold" text-anchor="start" textLength="144.4" lengthAdjust="spacingAndGlyphs">HEK293-SLCO1B1 521T</text>
<text x="1080.5" y="770.6" font-size="12.8" font-weight="bold" text-anchor="start" textLength="71.5" lengthAdjust="spacingAndGlyphs">+Rifampicin</text>
<line x1="1059.2" y1="759.2" x2="1072.4" y2="759.2" stroke-width="1.60"/>
<circle cx="1065.8" cy="759.2" r="3.00" fill="#fff" stroke-width="1.50"/>
</svg>
</body></html>
